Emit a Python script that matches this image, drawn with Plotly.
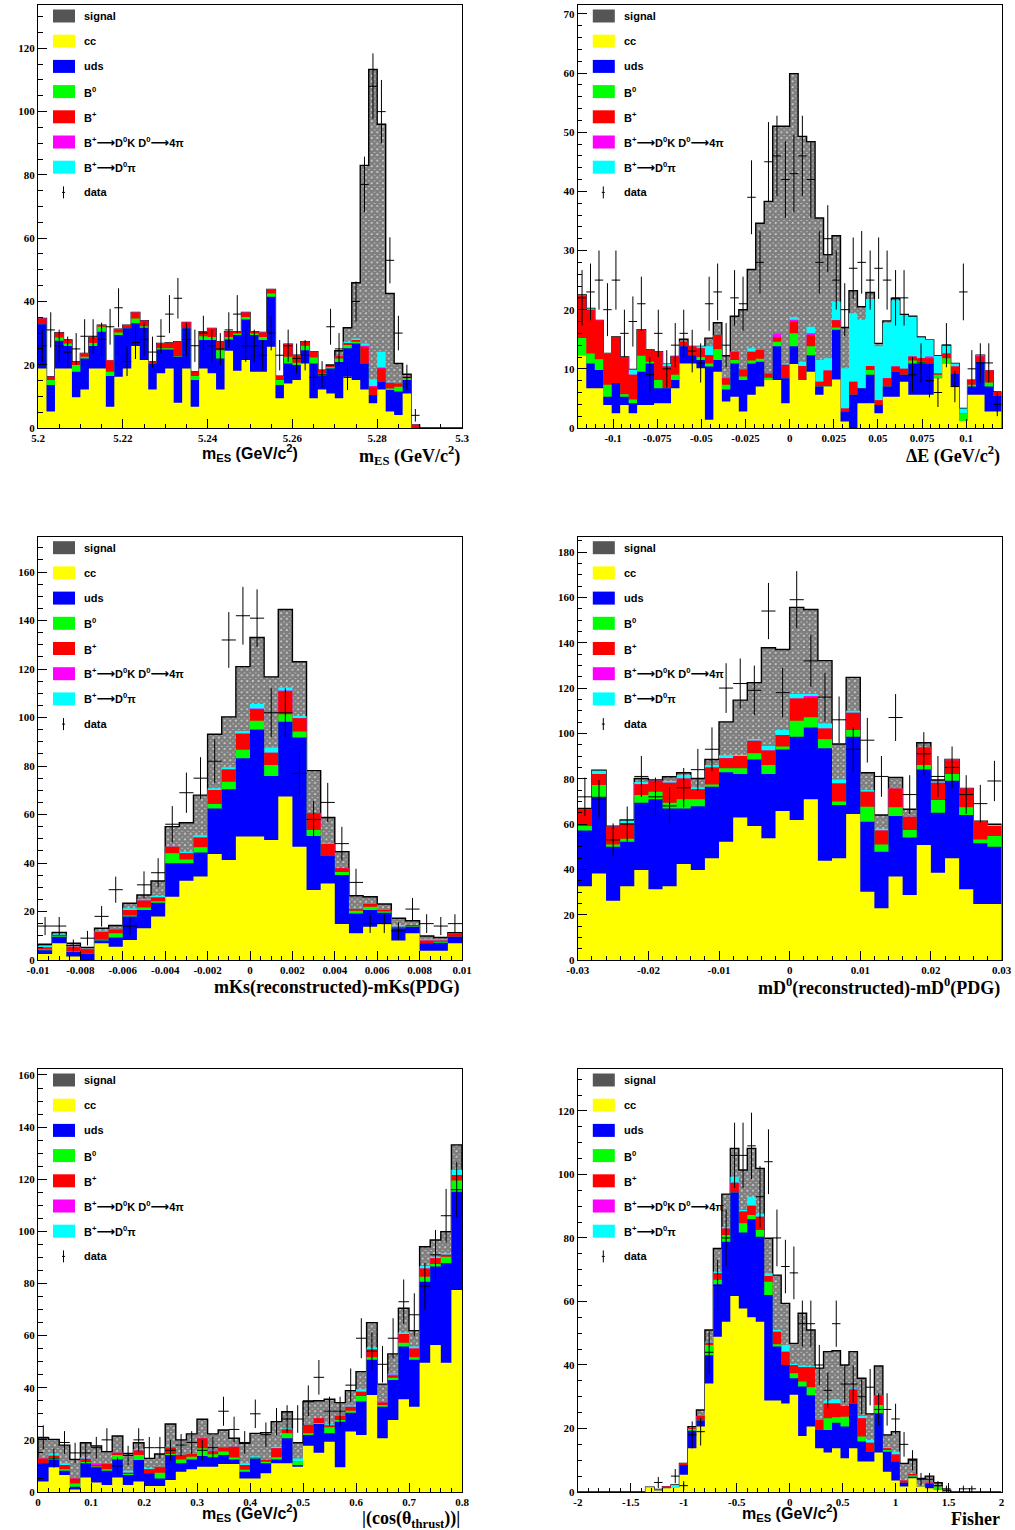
import numpy as np
import plotly.graph_objects as go

# ---------------------------------------------------------------------------
# Stacked Monte-Carlo components per histogram (events per bin) and data.
# Component order, bottom to top: cc, uds, B0, B+, B+->D0K, B+->D0pi, signal
# ---------------------------------------------------------------------------

# m_ES, 50 bins on [5.20, 5.30]
mes_range = (5.2, 5.3)
mes_cc = [18.8, 5.2, 18.8, 18.8, 9.7, 12.2, 18.8, 18.8, 6.7, 16.2,
          18.8, 25.9, 21.5, 12.2, 17.3, 18.8, 8.0, 18.8, 6.7, 18.8,
          17.3, 12.2, 24.4, 18.1, 21.5, 17.8, 17.8, 25.7, 9.4, 14.1,
          15.2, 20.4, 9.4, 12.2, 10.9, 9.4, 16.2, 15.2, 12.2, 7.8,
          12.2, 5.2, 4.1, 10.9, 0, 0, 0, 0, 0, 0]
mes_uds = [14.0, 8.4, 8.8, 7.1, 8.1, 9.8, 7.1, 11.6, 9.7, 13.2,
           12.7, 7.2, 10.2, 8.2, 7.5, 6.0, 14.5, 12.7, 8.5, 9.0,
           10.5, 9.8, 3.6, 11.3, 12.8, 11.6, 10.0, 15.8, 4.2, 6.3,
           4.7, 4.2, 11.0, 4.5, 7.9, 11.5, 9.0, 11.5, 8.2, 2.6,
           2.4, 6.8, 7.4, 4.3, 0, 0, 0, 0, 0, 0]
mes_b0 = [0, 1.6, 1.0, 0.8, 2.1, 0.5, 1.0, 1.6, 1.4, 0.8,
          0, 1.5, 0.5, 0, 0.4, 0.4, 0.2, 0, 1.2, 1.2,
          1.0, 2.6, 0.8, 0.5, 0.8, 0.5, 1.0, 1.0, 1.6, 2.1,
          0.7, 1.4, 1.9, 0.7, 0.5, 1.1, 1.0, 0.6, 0, 0,
          0, 0.5, 1.5, 0.5, 0, 0, 0, 0, 0, 0]
mes_bp = [1.8, 1.0, 1.5, 1.1, 1.0, 1.1, 1.7, 0.5, 3.5, 1.0,
          1.0, 1.9, 1.7, 0.5, 1.5, 1.7, 4.6, 1.9, 1.4, 1.4,
          2.7, 2.7, 1.6, 0.5, 1.4, 0.5, 1.4, 1.3, 1.2, 4.0,
          2.4, 1.3, 1.8, 0.9, 0.3, 0.7, 0.7, 0.5, 5.3, 2.6,
          4.2, 1.8, 1.1, 0.5, 1.0, 0, 0, 0, 0, 0]
mes_dk = [0, 0, 0, 0, 0, 0, 0, 0, 0, 0,
          0, 0, 0, 0, 0, 0, 0, 0, 0, 0,
          0, 0, 0, 0, 0, 0, 0, 0, 0, 0,
          0, 0, 0, 0, 0, 0, 0, 0, 0.3, 0.3,
          0.3, 0, 0, 0, 0, 0, 0, 0, 0, 0]
mes_dpi = [0, 0, 0, 0, 0, 0, 0, 0, 0, 0,
           0, 0, 0, 0, 0, 0, 0, 0, 0, 0,
           0, 0, 0, 0, 0, 0, 0, 0, 0, 0,
           0, 0, 0, 0, 0, 0, 0.4, 0.5, 0.7, 2.1,
           5.0, 0.3, 0, 0, 0, 0, 0, 0, 0, 0]
mes_sig = [0, 0, 0, 0, 0, 0, 0, 0, 0, 0,
           0, 0, 0, 0, 0, 0, 0, 0, 0, 0,
           0, 0, 0, 0, 0, 0, 0, 0, 0, 0,
           0, 0, 0, 0, 0.3, 1.7, 4.4, 17.6, 56.3, 97.9,
           71.9, 27.9, 6.3, 0.8, 0, 0, 0, 0, 0, 0]
mes_data = [26, 31, 26, 24, 25, 29, 29, 28, 32, 38,
            21, 27, 28, 24, 29, 36, 41, 28, 26, 30,
            26, 25, 31, 36, 26, 26, 23, 30, 23, 26,
            22, 23, 16, 17, 32, 25, 16, 40, 77, 108,
            100, 53, 30, 16, 4, 0, 0, 0, 0, 0]

# Delta E, 50 bins on [-0.12, 0.12]
de_range = (-0.12, 0.12)
de_cc = [12.3, 6.7, 6.7, 3.9, 2.5, 3.9, 2.5, 3.9, 3.9, 4.2,
         4.2, 6.7, 10.9, 10.9, 10.1, 1.4, 9.5, 4.5, 5.3, 2.8,
         5.6, 7.0, 8.1, 8.1, 4.2, 10.8, 8.1, 9.5, 5.6, 7.0,
         8.2, 1.1, 0, 4.2, 4.2, 2.5, 5.3, 5.3, 7.8, 5.6,
         5.6, 5.6, 8.4, 10.9, 7.0, 1.2, 5.6, 5.6, 2.8, 2.8]
de_uds = [0, 4.2, 3.1, 1.4, 5.1, 1.4, 1.7, 5.6, 7.0, 2.5,
          2.5, 1.4, 2.9, 1.4, 1.4, 9.0, 2.0, 2.0, 5.6, 5.3,
          5.3, 4.2, 0, 5.7, 4.2, 3.0, 0, 2.8, 1.4, 0,
          8.4, 1.7, 5.6, 2.5, 4.8, 1.4, 1.7, 4.2, 1.2, 5.3,
          5.3, 5.3, 0, 0, 2.2, 0, 1.4, 5.6, 4.2, 2.6]
de_b0 = [2.9, 1.7, 1.8, 2.0, 0, 0.4, 0.6, 2.7, 0.3, 1.4,
         0, 0.9, 0, 0, 0.5, 0.5, 1.8, 0.8, 0.6, 0.6,
         0.5, 0.5, 0.4, 0.8, 0, 2.2, 0, 1.5, 0, 0.1,
         0.4, 0, 0, 0, 0.8, 0, 0, 0, 0, 0.5,
         0.3, 0, 0.6, 0.9, 0, 1.3, 0.3, 0, 0.7, 0]
de_bp = [7.1, 7.4, 6.6, 5.3, 7.8, 6.3, 4.2, 4.4, 2.0, 4.8,
         3.7, 3.1, 0.8, 1.5, 1.5, 1.4, 2.4, 1.1, 1.4, 1.2,
         1.5, 1.5, 0.7, 0.8, 2.3, 2.0, 2.4, 1.9, 0.8, 2.6,
         1.2, 0.5, 2.2, 0, 0.7, 0.8, 1.4, 0.9, 1.0, 0.7,
         0.6, 0.9, 0.2, 0.8, 1.2, 0, 0.8, 0.9, 2.0, 0.7]
de_dk = [0.2, 0, 0, 0, 0, 0, 0, 0, 0, 0,
         0, 0, 0, 0, 0, 0, 0, 0, 0, 0,
         0, 0, 0, 0.6, 0, 0.3, 0, 0.3, 0, 0,
         0, 0, 0, 0, 0, 0, 0, 0, 0, 0,
         0, 0.3, 0, 0, 0, 0, 0, 0.2, 0, 0]
de_dpi = [0, 0.2, 0, 0, 0, 0, 0.9, 0, 0, 0,
          0.4, 0, 0, 0, 0.3, 1.5, 0, 0, 0, 0,
          0.6, 0, 0, 0, 0.2, 0.4, 0.7, 1.1, 3.7, 2.1,
          3.2, 6.8, 11.6, 11.6, 11.3, 9.1, 9.4, 11.2, 9.1, 6.7,
          3.5, 2.8, 3.0, 1.4, 0.5, 0.8, 0, 0, 0, 0]
de_sig = [0, 0, 0, 0, 0, 0, 0, 0, 0, 0,
          0, 0, 0.4, 0, 0, 1.4, 2.1, 3.8, 6.0, 10.1,
          13.3, 21.4, 29.1, 35.0, 40.1, 41.2, 38.1, 31.3, 24.0, 17.5,
          11.1, 6.9, 3.8, 2.2, 1.1, 0.5, 0.3, 0.3, 0.1, 0.1,
          0.1, 0, 0, 0, 0, 0, 0, 0, 0, 0]
de_data = [22, 23, 25, 20, 25, 16, 18, 21, 9, 16,
           10, 14, 16, 13, 11, 21, 23, 14, 22, 21,
           39, 28, 45, 46, 42, 43, 46, 42, 28, 32,
           25, 20, 27, 28, 25, 27, 25, 22, 22, 9,
           11, 8, 6, 14, 7, 23, 10, 11, 11, 4]

# mKs(reconstructed) - mKs(PDG), 30 bins on [-0.01, 0.01]
mks_range = (-0.01, 0.01)
mks_cc = [2.5, 6.9, 1.4, 0, 6.9, 5.5, 8.2, 13.1, 17.9, 26.1,
          32.7, 34.4, 43.7, 41.2, 50.9, 50.9, 49.5, 67.4, 46.7, 28.9,
          31.6, 14.8, 11.0, 13.7, 14.8, 8.0, 11.0, 3.8, 3.8, 6.9]
mks_uds = [1.5, 2.7, 2.0, 2.7, 1.1, 3.8, 9.7, 7.5, 5.7, 13.8,
           7.2, 9.9, 18.8, 29.2, 32.3, 44.2, 26.4, 30.9, 45.1, 22.2,
           11.3, 20.3, 8.2, 6.9, 4.7, 5.1, 2.7, 3.1, 3.3, 2.7]
mks_b0 = [0.3, 0.3, 0.2, 0.2, 0.4, 1.7, 0.5, 1.1, 0.6, 4.1,
          1.6, 2.2, 1.8, 3.1, 3.5, 3.6, 4.5, 3.1, 2.4, 2.5,
          0, 1.2, 1.1, 1.4, 0.5, 0, 0.2, 0, 0.4, 0]
mks_bp = [0.9, 0.4, 1.9, 1.5, 3.3, 1.6, 2.2, 2.8, 1.6, 2.7,
          2.5, 4.0, 5.8, 4.9, 6.5, 4.7, 5.1, 9.5, 5.5, 6.9,
          4.9, 1.5, 0.6, 1.1, 0.6, 0.6, 0.5, 1.1, 0.5, 1.4]
mks_dk = [0, 0, 0, 0, 0, 0, 0, 0, 0, 0,
          0, 0, 0, 0.4, 0.3, 0.3, 0, 0.3, 0, 0,
          0, 0, 0, 0, 0, 0, 0, 0, 0, 0]
mks_dpi = [0.6, 0.2, 0, 0, 0.4, 0, 0.7, 0.5, 0.7, 0,
           0.6, 1.0, 0.7, 0.7, 1.0, 1.9, 2.2, 1.2, 0.9, 0,
           0.3, 0, 0, 0, 0, 0.7, 0, 0.5, 0.5, 0]
mks_sig = [0.7, 0.9, 1.4, 0.8, 1.0, 1.6, 2.1, 1.8, 6.1, 8.3,
           12.0, 16.5, 22.3, 20.8, 26.5, 27.4, 29.1, 32.2, 22.4, 17.6,
           10.7, 6.9, 5.6, 3.0, 2.5, 2.8, 1.8, 1.4, 0.8, 0.3]
mks_data = [14, 14, 6, 9, 18, 29, 14, 31, 36, 56,
            69, 75, 82, 132, 142, 141, 102, 102, 77, 58,
            65, 48, 32, 15, 15, 12, 21, 15, 14, 15]

# mD0(reconstructed) - mD0(PDG), 30 bins on [-0.03, 0.03]
md0_range = (-0.03, 0.03)
md0_cc = [32.6, 38.2, 26.2, 32.6, 39.7, 31.2, 32.6, 42.4, 39.7, 44.9,
          52.2, 62.9, 59.1, 53.7, 65.7, 61.8, 70.9, 43.8, 44.9, 64.4,
          30.1, 22.8, 36.8, 28.7, 50.7, 38.5, 44.9, 31.2, 24.7, 24.7]
md0_uds = [24.5, 33.8, 23.8, 19.6, 29.7, 39.7, 34.3, 24.5, 28.2, 31.6,
           30.7, 19.2, 29.4, 28.4, 27.2, 36.7, 31.7, 49.6, 23.5, 34.1,
           30.9, 25.0, 26.7, 25.4, 33.4, 26.5, 34.2, 32.8, 26.8, 25.3]
md0_b0 = [2.0, 5.2, 1.0, 1.3, 3.4, 3.4, 2.5, 4.0, 3.0, 1.0,
          1.7, 2.5, 2.7, 3.9, 1.3, 7.1, 4.5, 4.0, 1.6, 3.0,
          6.6, 3.2, 3.9, 3.3, 1.9, 5.6, 3.0, 3.4, 1.7, 4.7]
md0_bp = [7.4, 4.9, 7.8, 6.8, 4.8, 4.8, 8.8, 9.2, 4.4, 7.5,
          4.4, 5.4, 5.6, 6.4, 5.1, 9.8, 8.7, 4.8, 7.9, 7.6,
          6.7, 6.1, 8.3, 5.8, 7.8, 7.6, 6.1, 8.3, 7.8, 4.4]
md0_dk = [0, 0, 0, 0, 0, 0, 0, 0, 0, 0,
          0, 0, 0, 0, 0, 0, 0.7, 0, 0, 0,
          0, 0, 0, 0, 0, 0, 0, 0, 0, 0]
md0_dpi = [0, 1.4, 0, 1.2, 0.9, 0, 0.8, 1.5, 0.9, 1.0,
           1.4, 0.5, 0.7, 2.0, 2.2, 2.0, 0.9, 2.2, 1.8, 0.9,
           0.7, 0.8, 0, 0, 0, 0.5, 0.3, 0, 0, 0.5]
md0_sig = [0.4, 0.3, 0.3, 0.3, 1.6, 0.3, 1.9, 1.0, 3.9, 2.5,
           14.7, 24.2, 24.9, 43.4, 35.5, 38.2, 37.3, 27.7, 15.6, 14.7,
           7.6, 6.1, 4.9, 3.3, 2.1, 0.7, 0, 0, 0.3, 0.3]
md0_data = [72, 71, 53, 60, 81, 72, 68, 76, 84, 93,
            120, 122, 119, 154, 118, 159, 132, 116, 106, 93,
            97, 81, 107, 73, 91, 81, 85, 73, 69, 79]

# |cos(theta_thrust)|, 40 bins on [0, 0.8]
thr_range = (0.0, 0.8)
thr_cc = [4.0, 9.5, 6.5, 1.0, 5.6, 3.6, 2.7, 5.6, 2.7, 4.0,
          2.3, 2.3, 4.6, 7.8, 8.7, 9.7, 9.7, 10.7, 10.7, 5.2,
          5.2, 7.2, 11.0, 11.0, 9.7, 17.7, 15.1, 19.3, 9.5, 23.2,
          21.9, 37.2, 20.6, 27.6, 35.6, 32.7, 49.6, 56.4, 49.6, 77.5]
thr_uds = [7.0, 3.0, 1.7, 1.0, 5.4, 5.9, 5.5, 6.9, 3.8, 8.3,
           4.9, 2.9, 9.6, 3.2, 3.8, 4.1, 3.6, 3.5, 1.8, 2.6,
           7.7, 3.8, 1.5, 9.6, 0.7, 4.2, 11.0, 3.2, 17.5, 7.2,
           12.8, 13.5, 12.1, 15.4, 20.2, 18.0, 31.1, 30.1, 38.2, 37.7]
thr_b0 = [0, 0.8, 0.5, 1.3, 0.5, 0.3, 0.5, 1.7, 0.4, 1.9,
          0, 2.2, 0.4, 1.5, 1.0, 3.0, 1.2, 1.3, 0.7, 0.7,
          0.3, 0.6, 0.8, 1.9, 1.2, 0.6, 0.4, 2.3, 0.6, 0.8,
          2.1, 1.0, 0.7, 0.8, 1.5, 1.0, 1.9, 1.0, 2.5, 4.3]
thr_bp = [1.9, 0.6, 1.7, 1.9, 1.3, 0.6, 2.0, 0.9, 0.5, 1.7,
          1.5, 2.1, 2.5, 1.7, 1.1, 3.8, 1.0, 1.6, 4.2, 1.9,
          0, 0.7, 3.5, 1.5, 0, 3.2, 1.8, 0.7, 1.6, 1.5,
          1.7, 3.0, 0.9, 0.8, 3.3, 3.4, 3.2, 2.2, 0.7, 2.1]
thr_dk = [0, 0, 0, 0, 0, 0.6, 0.3, 0, 0, 0,
          0, 0, 0, 0, 0, 0, 0.3, 0, 0, 0,
          0, 0, 0, 0, 0, 0, 0, 0, 0, 0,
          0, 0, 0, 0.5, 0, 0, 0, 0, 0, 0]
thr_dpi = [0, 0.9, 0.6, 0, 0.5, 0, 0, 0, 0.8, 0.5,
           0.4, 0, 0.3, 0, 0, 0, 0, 0, 0, 0.6,
           0.4, 0, 0.6, 0.4, 1.3, 0, 0, 0.5, 0, 0.5,
           0.9, 0.8, 0, 0.4, 0.6, 0.7, 0.9, 0.6, 0.6, 2.0]
thr_sig = [7.9, 5.4, 7.0, 7.3, 5.6, 6.7, 4.5, 6.4, 6.6, 2.5,
           3.8, 5.1, 8.7, 5.8, 7.7, 7.3, 6.5, 6.7, 3.2, 7.7,
           8.9, 10.5, 9.6, 6.4, 6.0, 9.0, 6.7, 9.6, 5.1, 5.7,
           6.8, 9.5, 7.1, 7.5, 9.3, 6.1, 7.4, 6.4, 8.3, 9.6]
thr_data = [21, 13, 19, 15, 15, 17, 20, 10, 14, 20,
            17, 17, 16, 18, 19, 16, 17, 31, 24, 19,
            30, 22, 27, 28, 28, 35, 44, 31, 31, 41,
            59, 54, 49, 59, 73, 68, 79, 91, 106, 116]

# Fisher discriminant, 50 bins on [-2, 2]
fis_range = (-2.0, 2.0)
fis_cc = [0, 0, 0, 0, 0, 0, 0, 0, 1.5, 0.5,
          1.2, 1.5, 5.4, 13.8, 20.6, 34.2, 48.9, 53.6, 61.7, 57.8,
          55.0, 53.6, 28.8, 28.8, 27.9, 30.6, 17.6, 20.6, 13.8, 12.4,
          13.8, 10.6, 13.8, 9.6, 9.6, 12.4, 6.4, 3.6, 1.7, 4.3,
          1.7, 1.2, 0.6, 0, 0, 0, 0, 0, 0, 0]
fis_uds = [0, 0, 0, 0, 0, 0, 0, 0, 0, 0,
           0, 0, 3.1, 5.5, 1.9, 8.9, 16.5, 25.2, 32.6, 23.9,
           30.9, 26.8, 33.2, 17.0, 12.1, 5.2, 15.6, 9.9, 5.7, 7.1,
           8.0, 10.0, 14.1, 6.3, 3.1, 12.4, 6.3, 6.0, 1.2, 0.5,
           0, 1.3, 0, 0, 0, 0, 0, 0, 0, 0]
fis_b0 = [0, 0, 0, 0, 0, 0, 0, 0, 0, 0,
          0, 0, 0, 0.5, 0, 3.2, 1.4, 2.1, 0, 2.9,
          1.3, 2.1, 4.2, 0.7, 0, 1.6, 1.6, 2.5, 0, 3.7,
          1.7, 3.1, 0, 1.6, 0, 2.6, 0.5, 0, 0, 0.4,
          0, 0, 1.1, 0, 0, 0, 0, 0, 0, 0]
fis_bp = [0, 0, 0, 0, 0, 0, 0, 0, 0, 0,
          0.5, 0, 0.5, 0.3, 1.4, 0.7, 2.1, 2.1, 3.1, 3.7,
          2.9, 4.2, 1.8, 4.0, 4.2, 2.6, 4.5, 6.3, 3.2, 4.7,
          4.4, 3.4, 4.2, 5.7, 2.8, 3.1, 0.6, 2.2, 0.7, 0.5,
          0, 0.5, 0, 0, 0, 0, 0, 0, 0, 0]
fis_dk = [0, 0, 0, 0, 0, 0, 0, 0, 0, 0,
          0, 0, 0, 0, 0, 0, 0, 0, 0, 0,
          0, 0, 0, 0, 0, 0, 0, 0, 0, 0,
          0, 0, 0.4, 0, 0, 0, 0, 0, 0, 0,
          0, 0, 0, 0, 0, 0, 0, 0, 0, 0]
fis_dpi = [0, 0, 0, 0, 0, 0, 0, 0, 0, 0.3,
           0, 0.7, 0, 0, 0, 0.3, 0.5, 0.5, 1.9, 0.5,
           2.9, 0.9, 0.9, 0.5, 2.1, 0.3, 0.5, 0.3, 0, 0.9,
           1.3, 0, 0.2, 0.7, 0.9, 0, 0.3, 0.9, 0, 0,
           0, 0, 0, 0, 0, 0, 0, 0, 0, 0]
fis_sig = [0, 0, 0, 0, 0, 0, 0, 0, 0, 0,
           0, 0, 0, 0.5, 1.9, 3.7, 7.3, 10.3, 8.9, 12.6,
           15.2, 14.3, 11.0, 17.3, 13.1, 6.5, 16.5, 11.4, 16.3, 15.4,
           15.3, 12.9, 11.5, 11.9, 8.2, 9.2, 3.9, 6.3, 5.4, 4.6,
           2.6, 2.0, 1.2, 0.6, 0, 0, 0, 0, 0, 0]
fis_data = [0, 0, 0, 0, 0, 0, 0, 0, 0, 3,
            0, 5, 2, 18, 19, 44, 65, 80, 106, 106,
            109, 93, 104, 80, 71, 69, 53, 53, 40, 32,
            53, 34, 34, 30, 33, 26, 26, 23, 15, 10,
            4, 4, 2, 1, 0, 1, 1, 0, 0, 0]

# Legend labels (shared by all panels)
ARROW = '<span style="font-family:DejaVu Sans;font-size:13px">⟶</span>'
legend_labels = ["signal", "cc", "uds", "B<sup>0</sup>", "B<sup>+</sup>",
                 "B<sup>+</sup>" + ARROW + "D<sup>0</sup>K D<sup>0</sup>" + ARROW + "4π",
                 "B<sup>+</sup>" + ARROW + "D<sup>0</sup>π", "data"]

# ---------------------------------------------------------------------------
# Styling / layout
# ---------------------------------------------------------------------------
W, H = 1015, 1530
COLORS = ["#ffff00", "#0000ff", "#00ff00", "#ff0000", "#ff00ff", "#00ffff"]
SIGNAL_BOX = "#555555"

panels = [
    dict(rng=mes_range, comps=[mes_cc, mes_uds, mes_b0, mes_bp, mes_dk, mes_dpi, mes_sig],
         data=mes_data, frame=(38, 5, 462, 428), ymax=133.7, ydt=20, ymin=5,
         xdt=0.02, xminor=0.005,
         title="m<sub>ES</sub> (GeV/c<sup>2</sup>)", extra=True, extra_y=453),
    dict(rng=de_range, comps=[de_cc, de_uds, de_b0, de_bp, de_dk, de_dpi, de_sig],
         data=de_data, frame=(577.8, 5, 1001.5, 428), ymax=71.5, ydt=10, ymin=2,
         xdt=0.025, xminor=0.005,
         title="ΔE (GeV/c<sup>2</sup>)", extra=False),
    dict(rng=mks_range, comps=[mks_cc, mks_uds, mks_b0, mks_bp, mks_dk, mks_dpi, mks_sig],
         data=mks_data, frame=(38, 536.7, 462, 960), ymax=174.6, ydt=20, ymin=5,
         xdt=0.002, xminor=0.0005,
         title="mKs(reconstructed)-mKs(PDG)", extra=False),
    dict(rng=md0_range, comps=[md0_cc, md0_uds, md0_b0, md0_bp, md0_dk, md0_dpi, md0_sig],
         data=md0_data, frame=(577.8, 536.7, 1001.5, 960), ymax=186.8, ydt=20, ymin=5,
         xdt=0.01, xminor=0.002,
         title="mD<sup>0</sup>(reconstructed)-mD<sup>0</sup>(PDG)", extra=False),
    dict(rng=thr_range, comps=[thr_cc, thr_uds, thr_b0, thr_bp, thr_dk, thr_dpi, thr_sig],
         data=thr_data, frame=(38, 1069, 462, 1492), ymax=162.3, ydt=20, ymin=5,
         xdt=0.1, xminor=0.02,
         title="|(cos(θ<sub>thrust</sub>))|", extra=True, extra_y=1513),
    dict(rng=fis_range, comps=[fis_cc, fis_uds, fis_b0, fis_bp, fis_dk, fis_dpi, fis_sig],
         data=fis_data, frame=(577.8, 1069, 1001.5, 1492), ymax=133.2, ydt=20, ymin=5,
         xdt=0.5, xminor=0.1,
         title="Fisher", extra=True, extra_y=1513),
]


def fx(px):
    return px / W


def fy(py):
    return 1 - py / H


def tick_labels(lo, hi, step):
    """Tick positions and ROOT-like labels (plain hyphen minus)."""
    k0 = int(np.ceil(lo / step - 1e-9))
    k1 = int(np.floor(hi / step + 1e-9))
    vals = [k * step for k in range(k0, k1 + 1)]
    texts = []
    for v in vals:
        s = f"{v:.6f}".rstrip("0").rstrip(".")
        if s in ("-0", ""):
            s = "0"
        texts.append(s)
    return vals, texts


fig = go.Figure()
shapes, annotations = [], []
tick_font = dict(family="Liberation Serif", size=11, color="black", weight="bold")

for i, p in enumerate(panels, start=1):
    xa = "x" if i == 1 else f"x{i}"
    ya = "y" if i == 1 else f"y{i}"
    lo, hi = p["rng"]
    comps = np.array(p["comps"], dtype=float)
    n = comps.shape[1]
    edges = np.linspace(lo, hi, n + 1)
    centers = 0.5 * (edges[:-1] + edges[1:])
    cum = np.cumsum(comps, axis=0)

    xs = np.concatenate([[lo], edges, [hi]])

    def step(v):
        return np.concatenate([[0.0], v, [v[-1]], [0.0]])

    # total (signal on top) with checker pattern and black outline
    fig.add_trace(go.Scatter(
        x=xs, y=step(cum[6]), mode="lines", xaxis=xa, yaxis=ya,
        line=dict(color="black", width=1.4, shape="hv"),
        fill="tozeroy", fillcolor="white",
        fillpattern=dict(shape="x", fgcolor="black", bgcolor="white",
                         size=4, solidity=0.9),
        hoverinfo="skip", showlegend=False))
    # background layers, drawn from the top of the stack downwards
    for k in range(5, -1, -1):
        fig.add_trace(go.Scatter(
            x=xs, y=step(cum[k]), mode="lines", xaxis=xa, yaxis=ya,
            line=dict(color=COLORS[k], width=0, shape="hv"),
            fill="tozeroy", fillcolor=COLORS[k],
            hoverinfo="skip", showlegend=False))

    # data points with Poisson errors
    d = np.array(p["data"], dtype=float)
    m = d > 0
    bw = (hi - lo) / n
    fig.add_trace(go.Scatter(
        x=centers[m], y=d[m], mode="markers", xaxis=xa, yaxis=ya,
        marker=dict(size=1, color="black"),
        error_y=dict(type="data", array=np.sqrt(d[m]), width=0,
                     thickness=1, color="black"),
        error_x=dict(type="constant", value=bw / 2, width=0,
                     thickness=1, color="black"),
        hoverinfo="skip", showlegend=False))

    L, T, R, B = p["frame"]
    axis_common = dict(showline=True, mirror=True, linecolor="black", linewidth=1,
                       ticks="inside", ticklen=9, tickwidth=1, tickcolor="black",
                       showgrid=False, zeroline=False, tickfont=tick_font,
                       automargin=False)
    xv, xt = tick_labels(lo, hi, p["xdt"])
    fig.layout[f"xaxis{'' if i == 1 else i}"] = dict(
        domain=[fx(L), fx(R)], anchor=ya, range=[lo, hi],
        tickmode="array", tickvals=xv, ticktext=xt,
        minor=dict(ticks="inside", ticklen=4.5, tickcolor="black", dtick=p["xminor"],
                   tick0=0, showgrid=False),
        **axis_common)
    fig.layout[f"yaxis{'' if i == 1 else i}"] = dict(
        domain=[fy(B), fy(T)], anchor=xa, range=[0, p["ymax"]],
        tick0=0, dtick=p["ydt"],
        minor=dict(ticks="inside", ticklen=4.5, tickcolor="black", dtick=p["ymin"],
                   tick0=0, showgrid=False),
        **axis_common)

    # in-frame legend
    for r, label in enumerate(legend_labels):
        cy = T + 11 + 25.2 * r
        if r < 7:
            shapes.append(dict(type="rect", xref="paper", yref="paper",
                               x0=fx(L + 15), x1=fx(L + 37),
                               y0=fy(cy + 6.5), y1=fy(cy - 6.5),
                               fillcolor=SIGNAL_BOX if r == 0 else COLORS[r - 1],
                               line=dict(width=0)))
        else:
            shapes.append(dict(type="line", xref="paper", yref="paper",
                               x0=fx(L + 25.5), x1=fx(L + 25.5),
                               y0=fy(cy + 6), y1=fy(cy - 6),
                               line=dict(color="black", width=1)))
            shapes.append(dict(type="line", xref="paper", yref="paper",
                               x0=fx(L + 24), x1=fx(L + 27),
                               y0=fy(cy), y1=fy(cy),
                               line=dict(color="black", width=1)))
        annotations.append(dict(text=label, xref="paper", yref="paper",
                                x=fx(L + 44), y=fy(cy), xanchor="left", yanchor="middle",
                                showarrow=False,
                                font=dict(family="Liberation Sans", size=11,
                                          color="black", weight="bold")))

    # axis title, right-aligned under the frame
    annotations.append(dict(text=p["title"], xref="paper", yref="paper",
                            x=fx(R), y=fy(B + 27), xanchor="right", yanchor="middle",
                            showarrow=False,
                            font=dict(family="Liberation Serif", size=18,
                                      color="black", weight="bold")))
    if p["extra"]:
        annotations.append(dict(text="m<sub>ES</sub> (GeV/c<sup>2</sup>)",
                                xref="paper", yref="paper",
                                x=fx(L + 212), y=fy(p["extra_y"]),
                                xanchor="center", yanchor="middle", showarrow=False,
                                font=dict(family="Liberation Sans", size=16,
                                          color="black", weight="bold")))

fig.update_layout(width=W, height=H, margin=dict(l=0, r=0, t=0, b=0),
                  paper_bgcolor="white", plot_bgcolor="white",
                  showlegend=False, shapes=shapes, annotations=annotations)

fig.write_html("out.html")
